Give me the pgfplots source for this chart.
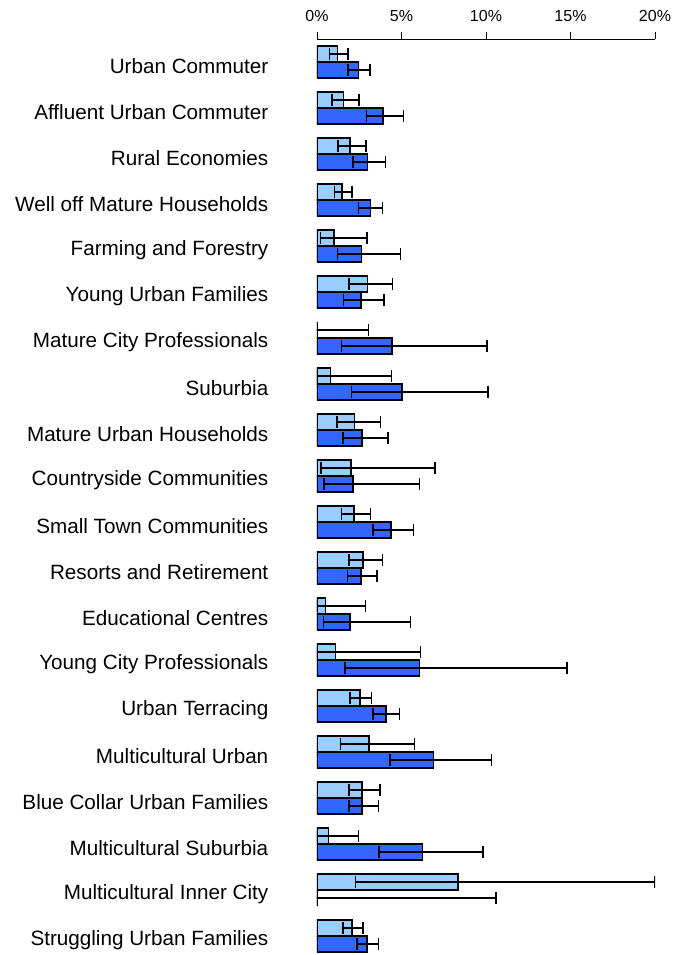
\documentclass[border=0pt]{standalone}
\usepackage{fontspec}
\setmainfont{Liberation Sans}
\usepackage{pgfplots}
\usepackage{pgfplotstable}
\pgfplotsset{compat=1.18}

\definecolor{lightbar}{RGB}{153,204,255}
\definecolor{darkbar}{RGB}{51,102,255}

% y = row position, x = bar end, lo/hi = ends of the error bar (all in %)
\pgfplotstableread{
y       x     lo    hi
-0.174  1.21  0.75  1.84
0.826   1.56  0.89  2.49
1.826   1.96  1.23  2.91
2.826   1.48  1.03  2.08
3.826   1.01  0.20  2.95
4.826   3.00  1.90  4.47
5.826   0.00  0.00  3.05
6.826   0.81  0.00  4.41
7.826   2.22  1.17  3.76
8.826   2.00  0.24  6.98
9.826   2.20  1.44  3.17
10.826  2.73  1.90  3.88
11.826  0.51  0.00  2.87
12.826  1.11  0.00  6.11
13.826  2.55  1.94  3.22
14.826  3.09  1.40  5.78
15.826  2.67  1.90  3.74
16.826  0.69  0.00  2.45
17.826  8.33  2.29  20.00
18.826  2.08  1.54  2.71
}\lighttable

\pgfplotstableread{
y       x     lo    hi
0.174   2.45  1.84  3.15
1.174   3.90  2.93  5.12
2.174   3.00  2.14  4.04
3.174   3.15  2.47  3.88
4.174   2.63  1.21  4.93
5.174   2.59  1.58  3.96
6.174   4.45  1.44  10.07
7.174   5.04  2.04  10.11
8.174   2.67  1.54  4.21
9.174   2.14  0.42  6.05
10.174  4.39  3.30  5.70
11.174  2.59  1.80  3.56
12.174  1.94  0.40  5.52
13.174  6.05  1.66  14.80
14.174  4.08  3.30  4.87
15.174  6.88  4.31  10.31
16.174  2.65  1.90  3.64
17.174  6.25  3.68  9.83
18.174  0.00  0.00  10.58
19.174  2.97  2.37  3.64
}\darktable

\begin{document}
\begin{tikzpicture}
\path[use as bounding box] (-237.75pt,3pt) rectangle (273.75pt,719.25pt);
\begin{axis}[
  at={(0,0)}, anchor=south west,
  scale only axis, width=253.5pt, height=690pt,
  xbar, bar width=0.348, bar shift=0pt,
  xmin=0, xmax=20, ymin=-0.5, ymax=19.5, y dir=reverse,
  axis x line*=top, axis y line*=left,
  y axis line style={draw=none},
  x axis line style={line width=0.6pt},
  xtick={0,5,...,20},
  xticklabel={\pgfmathprintnumber{\tick}\%},
  /pgf/number format/assume math mode=true,
  xticklabel style={font=\fontsize{12}{14}\selectfont, yshift=4.5pt},
  tick align=outside, major tick length=5pt,
  x tick style={line width=0.6pt, black},
  ytick={0,...,19}, y tick style={draw=none},
  yticklabels={Urban Commuter,Affluent Urban Commuter,Rural Economies,Well off Mature Households,Farming and Forestry,Young Urban Families,Mature City Professionals,Suburbia,Mature Urban Households,Countryside Communities,Small Town Communities,Resorts and Retirement,Educational Centres,Young City Professionals,Urban Terracing,Multicultural Urban,Blue Collar Urban Families,Multicultural Suburbia,Multicultural Inner City,Struggling Urban Families},
  yticklabel style={font=\fontsize{15.5}{18}\selectfont, anchor=east, xshift=-28pt, yshift=-3pt},
  errbar/.style={error bars/.cd, x dir=both, x explicit,
    error bar style={black, line width=1.1pt},
    error mark options={rotate=90, black, line width=1.1pt, mark size=4.2pt}},
]
\addplot[draw=black, line width=1.1pt, fill=lightbar, errbar]
  table[x=x, y=y, x error plus expr=\thisrow{hi}-\thisrow{x}, x error minus expr=\thisrow{x}-\thisrow{lo}] {\lighttable};
\addplot[draw=black, line width=1.1pt, fill=darkbar, errbar]
  table[x=x, y=y, x error plus expr=\thisrow{hi}-\thisrow{x}, x error minus expr=\thisrow{x}-\thisrow{lo}] {\darktable};
\end{axis}
\end{tikzpicture}
\end{document}
